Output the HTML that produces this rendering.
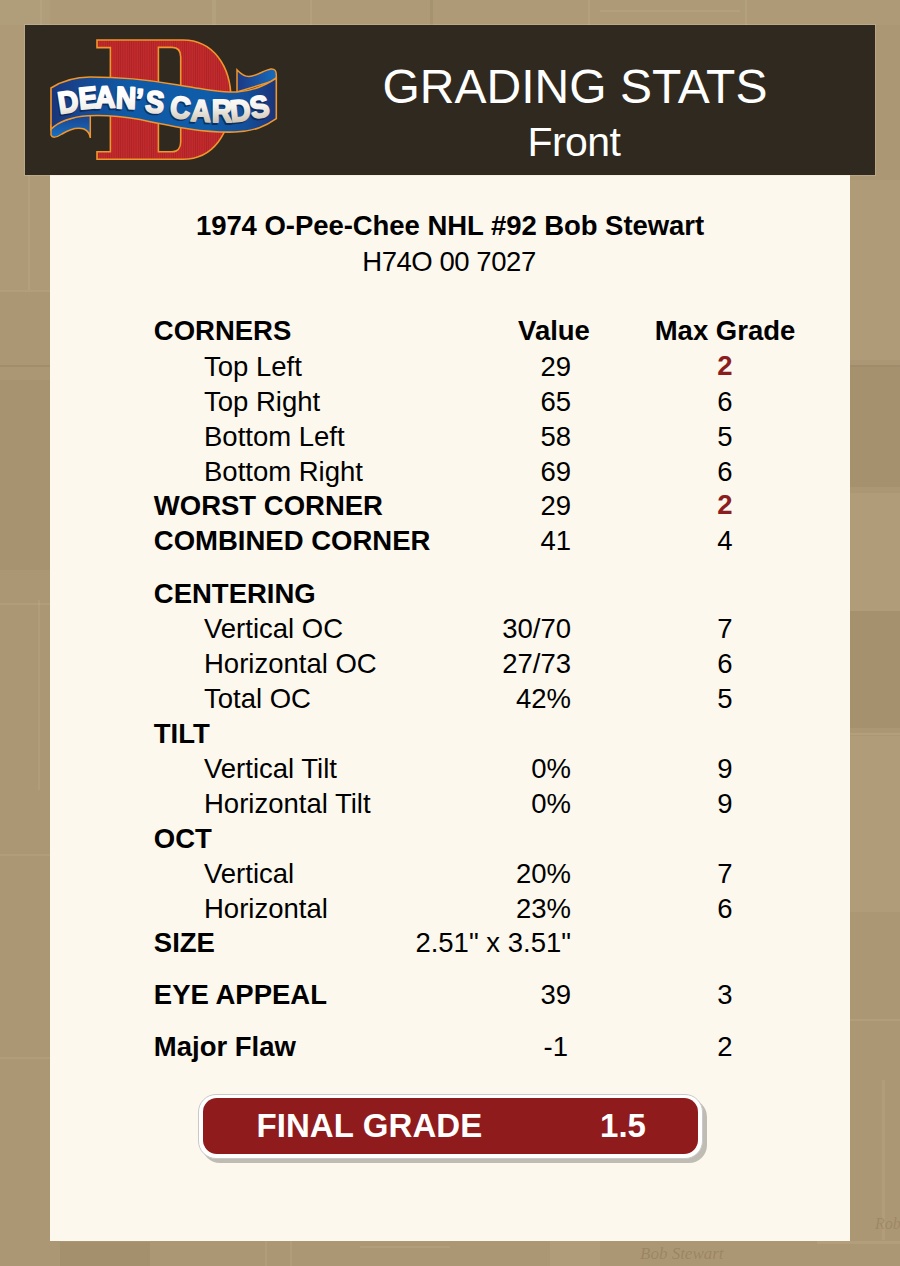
<!DOCTYPE html>
<html><head><meta charset="utf-8">
<style>
html,body{margin:0;padding:0;}
body{width:900px;height:1266px;position:relative;overflow:hidden;background:#ac9774;font-family:"Liberation Sans",sans-serif;color:#000;}
.t{position:absolute;white-space:nowrap;}
#hdr{position:absolute;left:25px;top:25px;width:850px;height:150px;background:#30291f;box-shadow:0 0 0 1px rgba(235,220,190,0.22);}
#panel{position:absolute;left:50px;top:175px;width:800px;height:1066px;background:#fcf8ee;}
</style></head><body>
<div style="position:absolute;left:0;top:0;width:900px;height:1266px;">
<div style="position:absolute;left:0;top:0;width:50px;height:290px;background:rgba(255,240,210,0.03);"></div>
<div style="position:absolute;left:28px;top:175px;width:2px;height:115px;background:rgba(255,240,210,0.07);"></div>
<div style="position:absolute;left:0;top:290px;width:50px;height:2px;background:rgba(255,240,210,0.08);"></div>
<div style="position:absolute;left:0;top:365px;width:50px;height:2px;background:rgba(60,40,20,0.08);"></div>
<div style="position:absolute;left:0;top:380px;width:50px;height:190px;background:rgba(60,40,20,0.04);"></div>
<div style="position:absolute;left:38px;top:600px;width:2px;height:190px;background:rgba(255,240,210,0.07);"></div>
<div style="position:absolute;left:850px;top:365px;width:50px;height:2px;background:rgba(60,40,20,0.10);"></div>
<div style="position:absolute;left:850px;top:180px;width:50px;height:180px;background:rgba(255,240,210,0.05);"></div>
<div style="position:absolute;left:850px;top:733px;width:50px;height:2px;background:rgba(255,240,210,0.09);"></div>
<div style="position:absolute;left:0;top:0;width:900px;height:25px;background:rgba(255,240,210,0.03);"></div>
<div style="position:absolute;left:40px;top:0;width:2px;height:25px;background:rgba(255,240,210,0.07);"></div>
<div style="position:absolute;left:212px;top:0;width:4px;height:25px;background:rgba(255,240,210,0.07);"></div>
<div style="position:absolute;left:310px;top:0;width:2px;height:25px;background:rgba(255,240,210,0.08);"></div>
<div style="position:absolute;left:430px;top:0;width:3px;height:25px;background:rgba(60,40,20,0.07);"></div>
<div style="position:absolute;left:588px;top:0;width:2px;height:25px;background:rgba(255,240,210,0.07);"></div>
<div style="position:absolute;left:600px;top:10px;width:140px;height:2px;background:rgba(255,240,210,0.07);"></div>
<div style="position:absolute;left:745px;top:0;width:2px;height:25px;background:rgba(255,240,210,0.07);"></div>
<div style="position:absolute;left:60px;top:1242px;width:90px;height:24px;background:rgba(70,50,25,0.07);"></div>
<div style="position:absolute;left:265px;top:1240px;width:2px;height:26px;background:rgba(255,240,210,0.07);"></div>
<div style="position:absolute;left:290px;top:1240px;width:2px;height:26px;background:rgba(255,240,210,0.07);"></div>
<div style="position:absolute;left:360px;top:1246px;width:90px;height:2px;background:rgba(255,240,210,0.08);"></div>
<div style="position:absolute;left:550px;top:1240px;width:50px;height:26px;background:rgba(255,240,210,0.06);"></div>
<div class="t" style="left:640px;top:1244px;font-family:'Liberation Serif',serif;font-style:italic;font-size:17px;line-height:20px;color:rgba(90,70,40,0.22);">Bob Stewart</div>
<div class="t" style="left:875px;top:1214px;font-family:'Liberation Serif',serif;font-style:italic;font-size:16px;line-height:20px;color:rgba(90,70,40,0.2);">Rob</div>
<div style="position:absolute;left:882px;top:1080px;width:3px;height:160px;background:rgba(255,240,210,0.07);"></div>
<div style="position:absolute;left:817px;top:1241px;width:83px;height:3px;background:rgba(255,240,210,0.08);"></div>
<div style="position:absolute;left:0;top:603px;width:50px;height:2px;background:rgba(255,240,210,0.07);"></div>
<div style="position:absolute;left:0;top:854px;width:50px;height:2px;background:rgba(255,240,210,0.07);"></div>
<div style="position:absolute;left:0;top:1057px;width:50px;height:2px;background:rgba(255,240,210,0.07);"></div>
<div style="position:absolute;left:850px;top:367px;width:50px;height:120px;background:rgba(60,40,20,0.05);"></div>
<div style="position:absolute;left:850px;top:493px;width:50px;height:118px;background:rgba(255,240,210,0.06);"></div>
<div style="position:absolute;left:850px;top:611px;width:50px;height:117px;background:rgba(60,40,20,0.05);"></div>
<div style="position:absolute;left:850px;top:736px;width:50px;height:176px;background:rgba(255,240,210,0.06);"></div>
<div style="position:absolute;left:850px;top:1019px;width:50px;height:2px;background:rgba(255,240,210,0.08);"></div>
</div>
<div id="panel"></div>
<div id="hdr"></div>
<div class="t" style="left:375px;width:400px;text-align:center;top:62.70px;font-size:48px;line-height:48px;color:#fff;">GRADING STATS</div>
<div class="t" style="left:374px;width:400px;text-align:center;top:122.35px;font-size:41px;line-height:41px;letter-spacing:-0.55px;color:#fff;">Front</div>
<div class="t" style="left:150px;width:600px;text-align:center;top:212.00px;font-size:27.5px;line-height:27.5px;font-weight:bold;letter-spacing:-0.05px;">1974 O-Pee-Chee NHL #92 Bob Stewart</div>
<div class="t" style="left:149px;width:600px;text-align:center;top:247.60px;font-size:27.5px;line-height:27.5px;letter-spacing:-0.45px;">H74O 00 7027</div>
<div class="t" style="top:317.00px;font-size:27.5px;line-height:27.5px;font-weight:bold;letter-spacing:0px;left:153.80px;">CORNERS</div>
<div class="t" style="top:317.00px;font-size:27.5px;line-height:27.5px;font-weight:bold;letter-spacing:0px;left:354.00px;width:400px;text-align:center;">Value</div>
<div class="t" style="top:317.00px;font-size:27.5px;line-height:27.5px;font-weight:bold;letter-spacing:0px;left:525.00px;width:400px;text-align:center;">Max Grade</div>
<div class="t" style="top:353.00px;font-size:27.5px;line-height:27.5px;letter-spacing:0px;left:204.00px;">Top Left</div>
<div class="t" style="top:353.00px;font-size:27.5px;line-height:27.5px;letter-spacing:0px;right:329.00px;">29</div>
<div class="t" style="top:351.70px;font-size:27.5px;line-height:27.5px;font-weight:bold;color:#8c1d1f;left:525.00px;width:400px;text-align:center;">2</div>
<div class="t" style="top:388.00px;font-size:27.5px;line-height:27.5px;letter-spacing:0px;left:204.00px;">Top Right</div>
<div class="t" style="top:388.00px;font-size:27.5px;line-height:27.5px;letter-spacing:0px;right:329.00px;">65</div>
<div class="t" style="top:388.00px;font-size:27.5px;line-height:27.5px;left:525.00px;width:400px;text-align:center;">6</div>
<div class="t" style="top:423.00px;font-size:27.5px;line-height:27.5px;letter-spacing:0px;left:204.00px;">Bottom Left</div>
<div class="t" style="top:423.00px;font-size:27.5px;line-height:27.5px;letter-spacing:0px;right:329.00px;">58</div>
<div class="t" style="top:423.00px;font-size:27.5px;line-height:27.5px;left:525.00px;width:400px;text-align:center;">5</div>
<div class="t" style="top:458.00px;font-size:27.5px;line-height:27.5px;letter-spacing:0px;left:204.00px;">Bottom Right</div>
<div class="t" style="top:458.00px;font-size:27.5px;line-height:27.5px;letter-spacing:0px;right:329.00px;">69</div>
<div class="t" style="top:458.00px;font-size:27.5px;line-height:27.5px;left:525.00px;width:400px;text-align:center;">6</div>
<div class="t" style="top:492.00px;font-size:27.5px;line-height:27.5px;font-weight:bold;letter-spacing:0px;left:153.80px;">WORST CORNER</div>
<div class="t" style="top:492.00px;font-size:27.5px;line-height:27.5px;letter-spacing:0px;right:329.00px;">29</div>
<div class="t" style="top:490.70px;font-size:27.5px;line-height:27.5px;font-weight:bold;color:#8c1d1f;left:525.00px;width:400px;text-align:center;">2</div>
<div class="t" style="top:527.00px;font-size:27.5px;line-height:27.5px;font-weight:bold;letter-spacing:0px;left:153.80px;">COMBINED CORNER</div>
<div class="t" style="top:527.00px;font-size:27.5px;line-height:27.5px;letter-spacing:0px;right:329.00px;">41</div>
<div class="t" style="top:527.00px;font-size:27.5px;line-height:27.5px;left:525.00px;width:400px;text-align:center;">4</div>
<div class="t" style="top:579.50px;font-size:27.5px;line-height:27.5px;font-weight:bold;letter-spacing:0px;left:153.80px;">CENTERING</div>
<div class="t" style="top:615.00px;font-size:27.5px;line-height:27.5px;letter-spacing:0px;left:204.00px;">Vertical OC</div>
<div class="t" style="top:615.00px;font-size:27.5px;line-height:27.5px;letter-spacing:0px;right:329.00px;">30/70</div>
<div class="t" style="top:615.00px;font-size:27.5px;line-height:27.5px;left:525.00px;width:400px;text-align:center;">7</div>
<div class="t" style="top:650.00px;font-size:27.5px;line-height:27.5px;letter-spacing:0px;left:204.00px;">Horizontal OC</div>
<div class="t" style="top:650.00px;font-size:27.5px;line-height:27.5px;letter-spacing:0px;right:329.00px;">27/73</div>
<div class="t" style="top:650.00px;font-size:27.5px;line-height:27.5px;left:525.00px;width:400px;text-align:center;">6</div>
<div class="t" style="top:684.50px;font-size:27.5px;line-height:27.5px;letter-spacing:0px;left:204.00px;">Total OC</div>
<div class="t" style="top:684.50px;font-size:27.5px;line-height:27.5px;letter-spacing:0px;right:329.00px;">42%</div>
<div class="t" style="top:684.50px;font-size:27.5px;line-height:27.5px;left:525.00px;width:400px;text-align:center;">5</div>
<div class="t" style="top:719.50px;font-size:27.5px;line-height:27.5px;font-weight:bold;letter-spacing:0px;left:153.80px;">TILT</div>
<div class="t" style="top:754.50px;font-size:27.5px;line-height:27.5px;letter-spacing:0px;left:204.00px;">Vertical Tilt</div>
<div class="t" style="top:754.50px;font-size:27.5px;line-height:27.5px;letter-spacing:0px;right:329.00px;">0%</div>
<div class="t" style="top:754.50px;font-size:27.5px;line-height:27.5px;left:525.00px;width:400px;text-align:center;">9</div>
<div class="t" style="top:789.50px;font-size:27.5px;line-height:27.5px;letter-spacing:0px;left:204.00px;">Horizontal Tilt</div>
<div class="t" style="top:789.50px;font-size:27.5px;line-height:27.5px;letter-spacing:0px;right:329.00px;">0%</div>
<div class="t" style="top:789.50px;font-size:27.5px;line-height:27.5px;left:525.00px;width:400px;text-align:center;">9</div>
<div class="t" style="top:824.50px;font-size:27.5px;line-height:27.5px;font-weight:bold;letter-spacing:0px;left:153.80px;">OCT</div>
<div class="t" style="top:859.50px;font-size:27.5px;line-height:27.5px;letter-spacing:0px;left:204.00px;">Vertical</div>
<div class="t" style="top:859.50px;font-size:27.5px;line-height:27.5px;letter-spacing:0px;right:329.00px;">20%</div>
<div class="t" style="top:859.50px;font-size:27.5px;line-height:27.5px;left:525.00px;width:400px;text-align:center;">7</div>
<div class="t" style="top:894.50px;font-size:27.5px;line-height:27.5px;letter-spacing:0px;left:204.00px;">Horizontal</div>
<div class="t" style="top:894.50px;font-size:27.5px;line-height:27.5px;letter-spacing:0px;right:329.00px;">23%</div>
<div class="t" style="top:894.50px;font-size:27.5px;line-height:27.5px;left:525.00px;width:400px;text-align:center;">6</div>
<div class="t" style="top:929.00px;font-size:27.5px;line-height:27.5px;font-weight:bold;letter-spacing:0px;left:153.80px;">SIZE</div>
<div class="t" style="top:929.00px;font-size:27.5px;line-height:27.5px;letter-spacing:0px;right:329.00px;">2.51&quot; x 3.51&quot;</div>
<div class="t" style="top:981.00px;font-size:27.5px;line-height:27.5px;font-weight:bold;letter-spacing:0px;left:153.80px;">EYE APPEAL</div>
<div class="t" style="top:981.00px;font-size:27.5px;line-height:27.5px;letter-spacing:0px;right:329.00px;">39</div>
<div class="t" style="top:981.00px;font-size:27.5px;line-height:27.5px;left:525.00px;width:400px;text-align:center;">3</div>
<div class="t" style="top:1033.00px;font-size:27.5px;line-height:27.5px;font-weight:bold;letter-spacing:0px;left:153.80px;">Major Flaw</div>
<div class="t" style="top:1033.00px;font-size:27.5px;line-height:27.5px;letter-spacing:0px;right:332.00px;">-1</div>
<div class="t" style="top:1033.00px;font-size:27.5px;line-height:27.5px;left:525.00px;width:400px;text-align:center;">2</div>
<div style="position:absolute;left:202px;top:1099px;width:505px;height:64px;border-radius:18px;background:#bfbcb3;"></div>
<div style="position:absolute;left:198px;top:1094px;width:503px;height:62.5px;border-radius:18px;background:#fff;border:1px solid #c9c9c9;"></div>
<div style="position:absolute;left:203px;top:1098px;width:495px;height:56px;border-radius:14px;background:#8f1b1d;"></div>
<div class="t" style="left:256.40px;top:1109.40px;font-size:33px;line-height:33px;font-weight:bold;color:#fff;letter-spacing:0.1px;">FINAL GRADE</div>
<div class="t" style="left:600.10px;top:1109.40px;font-size:33px;line-height:33px;font-weight:bold;color:#fff;">1.5</div>

<svg style="position:absolute;left:0;top:0" width="300" height="180" viewBox="0 0 300 180">
<defs>
<pattern id="str" patternUnits="userSpaceOnUse" width="2.2" height="10"><rect width="2.2" height="10" fill="#c22a2c"/><rect x="1.5" width="0.7" height="10" fill="#a82226"/></pattern>
<linearGradient id="bn" x1="51" y1="0" x2="276" y2="0" gradientUnits="userSpaceOnUse">
<stop offset="0" stop-color="#1b3478"/><stop offset="0.12" stop-color="#17468f"/><stop offset="0.35" stop-color="#0f5aa6"/><stop offset="0.7" stop-color="#0f5ca9"/><stop offset="0.87" stop-color="#144e99"/><stop offset="1" stop-color="#1b3479"/></linearGradient>
<linearGradient id="tl" x1="0" y1="112" x2="0" y2="138" gradientUnits="userSpaceOnUse"><stop offset="0" stop-color="#1b3a85"/><stop offset="1" stop-color="#1773c4"/></linearGradient>
<linearGradient id="tr" x1="237" y1="0" x2="276" y2="0" gradientUnits="userSpaceOnUse"><stop offset="0" stop-color="#1c3883"/><stop offset="1" stop-color="#166cbd"/></linearGradient>
<linearGradient id="tx" x1="0" y1="88" x2="0" y2="123" gradientUnits="userSpaceOnUse"><stop offset="0.15" stop-color="#ffffff"/><stop offset="0.55" stop-color="#f4f1ec"/><stop offset="1" stop-color="#cdc2ae"/></linearGradient>
</defs>
<path fill="url(#str)" stroke="#f0962c" stroke-width="1.6" fill-rule="evenodd"
 d="M97,40 L183,40 C213,40 231,66 231,99.6 C231,133 213,159.2 183,159.2 L97,159.2 L97,151.7 L110.4,151.7 L110.4,47.6 L97,47.6 Z M158.4,47.4 L172,47.4 C177.5,47.4 180.7,51 180.7,57 L180.7,142 C180.7,148 177.5,151.7 172,151.7 L158.4,151.7 Z"/>
<path fill="url(#tl)" stroke="#f0962c" stroke-width="1.5" d="M51,125 L51,135 C52,138 56,138 62,134 C70,129 78,127 84,129 C88,131 90,134 90.3,138 L90.3,112 Z"/>
<path fill="url(#tr)" stroke="#f0962c" stroke-width="1.5" d="M237,92 L237,69.8 C240,73 243,76.5 249,76.5 C257,76 264,70 271,69 C275,68.8 276.3,71 276.3,74.7 L276.3,80 Z"/>
<path fill="url(#bn)" stroke="#f0962c" stroke-width="1.6" d="M51,88 C62,81 74,77 90,77 C120,77 150,80 175,84.5 C205,89.5 222,92.5 237,92 C252,91 266,85 276.3,78 L276.3,118.7 C266,126 255,131 235,132 C205,133 175,127 140,119.5 C120,116 100,115 88,115.7 C72,116.5 58,122 51,129.3 Z"/>
<g font-family="Liberation Sans" font-weight="bold" font-size="30.5" fill="#0b1f4a" stroke="#0b1f4a" stroke-width="2" opacity="0.7">
<text x="68.00" y="112.42" text-anchor="middle" transform="translate(67.00 103.10) rotate(-9) scale(0.92 1) translate(-68.00 -101.50)">D</text>
<text x="88.00" y="108.42" text-anchor="middle" transform="translate(87.00 99.10) rotate(-6) scale(0.92 1) translate(-88.00 -97.50)">E</text>
<text x="105.00" y="107.72" text-anchor="middle" transform="translate(104.00 98.40) rotate(-2) scale(0.92 1) translate(-105.00 -96.80)">A</text>
<text x="126.00" y="108.42" text-anchor="middle" transform="translate(125.00 99.10) rotate(2) scale(0.92 1) translate(-126.00 -97.50)">N</text>
<text x="139.70" y="110.42" text-anchor="middle" transform="translate(138.70 101.10) rotate(4) scale(0.92 1) translate(-139.70 -99.50)">’</text>
<text x="155.00" y="112.42" text-anchor="middle" transform="translate(154.00 103.10) rotate(6) scale(0.92 1) translate(-155.00 -101.50)">S</text>
<text x="180.40" y="118.12" text-anchor="middle" transform="translate(179.40 108.80) rotate(6) scale(0.92 1) translate(-180.40 -107.20)">C</text>
<text x="201.00" y="121.42" text-anchor="middle" transform="translate(200.00 112.10) rotate(3) scale(0.92 1) translate(-201.00 -110.50)">A</text>
<text x="222.00" y="122.42" text-anchor="middle" transform="translate(221.00 113.10) rotate(0) scale(0.92 1) translate(-222.00 -111.50)">R</text>
<text x="240.20" y="120.92" text-anchor="middle" transform="translate(239.20 111.60) rotate(-6) scale(0.92 1) translate(-240.20 -110.00)">D</text>
<text x="259.30" y="117.42" text-anchor="middle" transform="translate(258.30 108.10) rotate(-12) scale(0.92 1) translate(-259.30 -106.50)">S</text>
</g>
<g font-family="Liberation Sans" font-weight="bold" font-size="30.5" fill="url(#tx)" stroke="url(#tx)" stroke-width="2" stroke-linejoin="round">
<text x="68.00" y="112.42" text-anchor="middle" transform="translate(68.00 101.50) rotate(-9) scale(0.92 1) translate(-68.00 -101.50)">D</text>
<text x="88.00" y="108.42" text-anchor="middle" transform="translate(88.00 97.50) rotate(-6) scale(0.92 1) translate(-88.00 -97.50)">E</text>
<text x="105.00" y="107.72" text-anchor="middle" transform="translate(105.00 96.80) rotate(-2) scale(0.92 1) translate(-105.00 -96.80)">A</text>
<text x="126.00" y="108.42" text-anchor="middle" transform="translate(126.00 97.50) rotate(2) scale(0.92 1) translate(-126.00 -97.50)">N</text>
<text x="139.70" y="110.42" text-anchor="middle" transform="translate(139.70 99.50) rotate(4) scale(0.92 1) translate(-139.70 -99.50)">’</text>
<text x="155.00" y="112.42" text-anchor="middle" transform="translate(155.00 101.50) rotate(6) scale(0.92 1) translate(-155.00 -101.50)">S</text>
<text x="180.40" y="118.12" text-anchor="middle" transform="translate(180.40 107.20) rotate(6) scale(0.92 1) translate(-180.40 -107.20)">C</text>
<text x="201.00" y="121.42" text-anchor="middle" transform="translate(201.00 110.50) rotate(3) scale(0.92 1) translate(-201.00 -110.50)">A</text>
<text x="222.00" y="122.42" text-anchor="middle" transform="translate(222.00 111.50) rotate(0) scale(0.92 1) translate(-222.00 -111.50)">R</text>
<text x="240.20" y="120.92" text-anchor="middle" transform="translate(240.20 110.00) rotate(-6) scale(0.92 1) translate(-240.20 -110.00)">D</text>
<text x="259.30" y="117.42" text-anchor="middle" transform="translate(259.30 106.50) rotate(-12) scale(0.92 1) translate(-259.30 -106.50)">S</text>
</g>
</svg>

</body></html>
